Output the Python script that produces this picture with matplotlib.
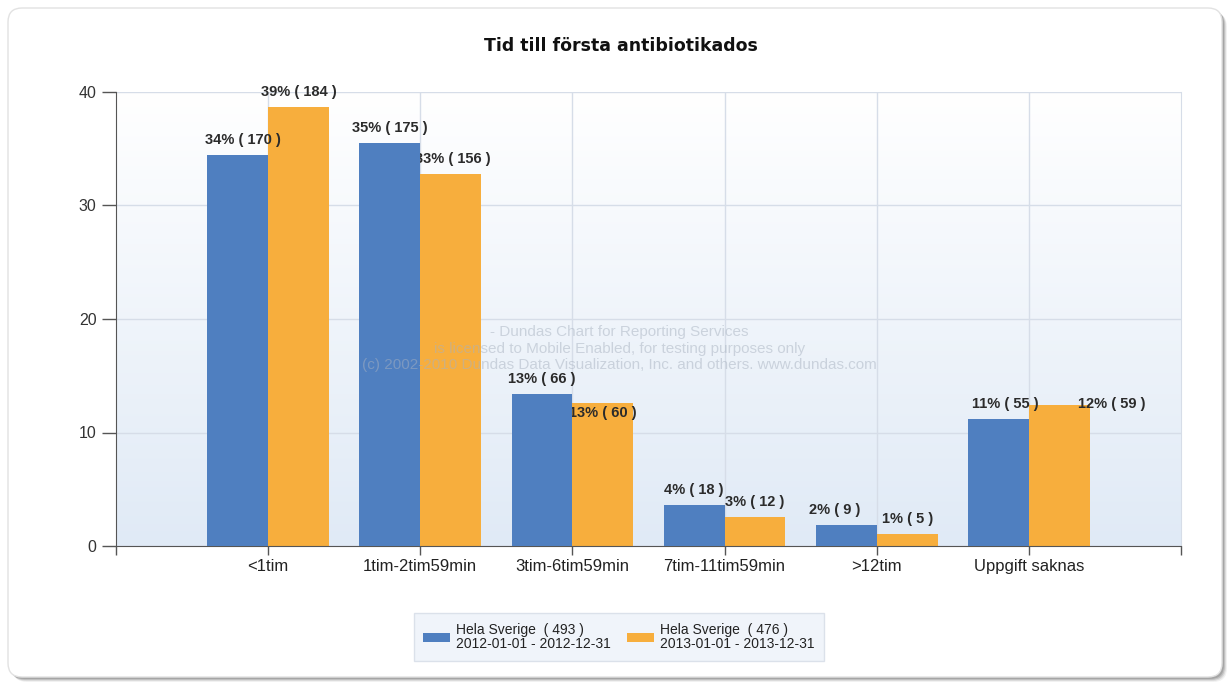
import numpy as np
import matplotlib
matplotlib.use("Agg")
import matplotlib.pyplot as plt
from matplotlib.patches import Patch, FancyBboxPatch
from matplotlib.colors import LinearSegmentedColormap
from matplotlib.transforms import IdentityTransform

# ---------------- data ----------------
title = "Tid till första antibiotikados"
categories = ["<1tim", "1tim-2tim59min", "3tim-6tim59min", "7tim-11tim59min", ">12tim", "Uppgift saknas"]
series_names = ["Hela Sverige", "Hela Sverige"]
series_totals = [493, 476]
series_periods = ["2012-01-01 - 2012-12-31", "2013-01-01 - 2013-12-31"]
counts_2012 = [170, 175, 66, 18, 9, 55]
counts_2013 = [184, 156, 60, 12, 5, 59]
pct_2012 = [34.48, 35.49, 13.39, 3.65, 1.83, 11.16]
pct_2013 = [38.66, 32.77, 12.61, 2.52, 1.05, 12.39]
yticks = [0, 10, 20, 30, 40]
watermark = ["- Dundas Chart for Reporting Services",
             "is licensed to Mobile Enabled, for testing purposes only",
             "(c) 2002-2010 Dundas Data Visualization, Inc. and others. www.dundas.com"]

# ---------------- style ----------------
W, H = 1231, 686
BLUE = "#4f7fc0"
ORANGE = "#f7ae3d"
SANS = ["Liberation Sans", "DejaVu Sans"]
# smart-label nudges (pixels) for overlapping labels: (series, index) -> (dx, dy from default)
label_nudge = {(0, 0): (5, 0), (1, 1): (2, 0), (1, 2): (0, -25), (0, 4): (-12, 0),
               (0, 5): (7, 0), (1, 5): (52, -14)}

fig = plt.figure(figsize=(W / 100, H / 100), dpi=100)
fig.patch.set_facecolor("white")

# outer rounded frame with shadow
for off, a in [(5, 0.10), (4, 0.18), (3, 0.28), (2, 0.38)]:
    fig.patches.append(FancyBboxPatch((8 + off, H - 677 - off), 1214, 669,
                                      boxstyle="round,pad=0,rounding_size=14",
                                      transform=IdentityTransform(), facecolor="#7a7a7a",
                                      edgecolor="none", alpha=a, zorder=-3))
fig.patches.append(FancyBboxPatch((8, H - 677), 1214, 669, boxstyle="round,pad=0,rounding_size=14",
                                  transform=IdentityTransform(), facecolor="white",
                                  edgecolor="#e2e2e2", lw=1, zorder=-2))

ax = fig.add_axes([116 / W, 1 - 546 / H, (1181 - 116) / W, (546 - 92) / H])
ax.set_facecolor("none")

x = np.arange(1, len(categories) + 1)
w = 0.4

# background gradient
cmap = LinearSegmentedColormap.from_list("bg", ["#e0eaf6", "#ffffff"])
grad = np.linspace(0, 1, 256).reshape(-1, 1)
ax.imshow(grad, extent=[0, len(categories) + 1, yticks[0], yticks[-1]], aspect="auto",
          cmap=cmap, origin="lower", zorder=0, interpolation="bicubic")
ax.set_xlim(0, len(categories) + 1)
ax.set_ylim(yticks[0], yticks[-1])

# grid
ax.set_axisbelow(True)
ax.grid(True, color="#d6dde8", lw=1, zorder=0.5)

bars_b = ax.bar(x - w / 2, pct_2012, w, color=BLUE, zorder=3)
bars_o = ax.bar(x + w / 2, pct_2013, w, color=ORANGE, zorder=2)

# watermark (faint, drawn over the bars)
for i, (line, yf) in enumerate(zip(watermark, [0.471, 0.435, 0.398])):
    ax.text(0.473, yf, line, transform=ax.transAxes, ha="center", va="center",
            fontsize=11, color="#a8b2c0", alpha=0.5, family=SANS, zorder=5)

for s, (bars, pcts, cnts, z) in enumerate([(bars_b, pct_2012, counts_2012, 4),
                                           (bars_o, pct_2013, counts_2013, 2.5)]):
    for i, (b, p, c) in enumerate(zip(bars, pcts, cnts)):
        dx, dy = label_nudge.get((s, i), (0, 0))
        ax.annotate(f"{p:.0f}% ( {c} )", xy=(b.get_x() + b.get_width() / 2, b.get_height()),
                    xytext=(dx, 15 + dy), textcoords="offset pixels", ha="center", va="center",
                    fontsize=10.5, fontweight="bold", color="#2b2b2b", family=SANS, zorder=z)

# axes styling
ax.spines["top"].set_visible(False)
ax.spines["right"].set_color("#d6dde8")
ax.spines["left"].set_color("#555555")
ax.spines["bottom"].set_color("#555555")
ax.set_xticks(x)
ax.set_xticklabels(categories, fontsize=12, family=SANS, color="#222222")
ax.set_xticks([0, len(categories) + 1], minor=True)
ax.set_yticks(yticks)
ax.set_yticklabels([str(v) for v in yticks], fontsize=11.5, family=SANS, color="#333333")
ax.tick_params(axis="x", which="both", direction="out", length=6.5, width=1, color="#555555", pad=3)
ax.tick_params(axis="y", which="both", direction="out", length=10, width=1, color="#555555", pad=4)

fig.text(621 / W, 1 - 46 / H, title, ha="center", va="center", fontsize=12.5,
         fontweight="bold", family="DejaVu Sans", color="#111111")

handles = [Patch(facecolor=BLUE), Patch(facecolor=ORANGE)]
labels = [f"{n}  ( {t} )\n{p}" for n, t, p in zip(series_names, series_totals, series_periods)]
leg = fig.legend(handles, labels, ncol=2, loc="center", bbox_to_anchor=(619 / W, 1 - 637 / H),
                 frameon=True, fancybox=False, facecolor="#edf2f9", edgecolor="#d4dbe6",
                 prop={"family": SANS, "size": 10}, handlelength=1.9, handleheight=0.65,
                 handletextpad=0.45, columnspacing=1.2, borderpad=0.7)
leg.get_frame().set_linewidth(1)
for t in leg.get_texts():
    t.set_linespacing(1.0)
    t.set_color("#222222")

fig.savefig("out.png", dpi=100)
